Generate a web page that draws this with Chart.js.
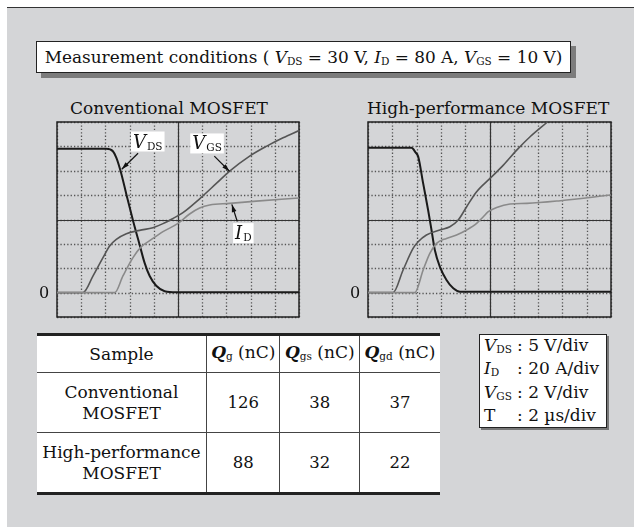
<!DOCTYPE html>
<html>
<head>
<meta charset="utf-8">
<script src="https://cdn.jsdelivr.net/npm/chart.js@4/dist/chart.umd.min.js"></script>
<style>
  html, body { margin: 0; padding: 0; background: #fff; }
  body { width: 634px; height: 527px; position: relative; overflow: hidden; font-family: "DejaVu Serif", serif; color: #111; }
  #panel { position: absolute; left: 7px; top: 7px; right: 0; bottom: 0; background: #d4d5d7; border-top: 1.5px solid #333; }
  .abs { position: absolute; }
  sub { font-size: 0.62em; vertical-align: -0.15em; font-style: normal; }
  i { font-style: italic; }
  #cond { left: 36px; top: 41px; width: 533px; height: 30px; background: #fff; border: 1.5px solid #222; box-shadow: 5px 5px 0 #7c7c7c; font-size: 16.9px; line-height: 30px; text-align: center; white-space: nowrap; }
  .ctitle { top: 98px; font-size: 17px; line-height: 20px; text-align: center; white-space: nowrap; }
  canvas { position: absolute; }
  table { position: absolute; left: 37px; top: 333px; width: 403px; border-collapse: collapse; background: #fff; font-size: 16.5px; text-align: center; }
  table { border-top: 3.5px solid #222; border-bottom: 3.5px solid #222; }
  td, th { border: 1.3px solid #444; padding: 0; font-weight: normal; line-height: 21px; white-space: nowrap; }
  td:first-child, th:first-child { border-left: none; }
  td:last-child, th:last-child { border-right: none; }
  tr.h th { height: 36px; font-size: 17px; }
  tr.r td { height: 59px; }
  td.s { font-size: 17px; }
  b.q { font-style: italic; font-weight: bold; }
  #units { left: 479px; top: 334px; width: 126px; height: 92px; background: #fff; border: 1.5px solid #222; box-shadow: 2px 2px 0 #777; font-size: 17px; }
  #units div { position: absolute; left: 4px; white-space: nowrap; line-height: 20px; }
  #units span.c { position: absolute; left: 33px; }
</style>
</head>
<body>
<div id="panel"></div>
<div id="cond" class="abs">Measurement conditions ( <i>V</i><sub>DS</sub> = 30 V, <i>I</i><sub>D</sub> = 80 A, <i>V</i><sub>GS</sub> = 10 V)</div>
<div class="abs ctitle" style="left:59px;width:220px;">Conventional MOSFET</div>
<div class="abs ctitle" style="left:367px;width:242px;">High-performance MOSFET</div>
<canvas id="c1" width="272" height="215" style="left:37px;top:112px;"></canvas>
<canvas id="c2" width="273" height="215" style="left:348px;top:112px;"></canvas>
<table>
  <tr class="h"><th style="width:169px">Sample</th><th><b class="q">Q</b><sub>g</sub> (nC)</th><th><b class="q">Q</b><sub>gs</sub> (nC)</th><th><b class="q">Q</b><sub>gd</sub> (nC)</th></tr>
  <tr class="r"><td class="s">Conventional<br>MOSFET</td><td>126</td><td>38</td><td>37</td></tr>
  <tr class="r"><td class="s">High-performance<br>MOSFET</td><td>88</td><td>32</td><td>22</td></tr>
</table>
<div id="units" class="abs">
  <div style="top:0px"><i>V</i><sub>DS</sub><span class="c">: 5 V/div</span></div>
  <div style="top:23px"><i>I</i><sub>D</sub><span class="c">: 20 A/div</span></div>
  <div style="top:47px"><i>V</i><sub>GS</sub><span class="c">: 2 V/div</span></div>
  <div style="top:70px">T<span class="c">: 2 µs/div</span></div>
</div>
<script>
// time axis in µs (2 µs/div), grid every division
const timeTicks = [0, 2, 4, 6, 8, 10, 12, 14, 16, 18, 20];
const vdsTicks = [-5, 0, 5, 10, 15, 20, 25, 30, 35];

// Conventional MOSFET waveforms (t in µs)
const convVdsT = [0, 4.08, 4.62, 4.9, 5.26, 5.74, 6.28, 6.84, 7.24, 7.66, 8.2, 8.9, 9.86, 20];
const convVds  = [29.5, 29.5, 29.0, 27.7, 24.9, 20.1, 14.8, 9.7, 6.1, 3.4, 1.4, 0.3, 0.1, 0.1];
const convVgsT = [0, 2.15, 2.98, 3.8, 4.35, 4.9, 5.73, 6.83, 7.93, 8.76, 9.59, 10.41, 11.79, 13.17, 14.27, 15.92, 17.3, 18.68, 20];
const convVgs  = [0, 0, 1.37, 2.87, 3.83, 4.37, 4.84, 5.11, 5.33, 5.66, 6.09, 6.56, 7.7, 8.96, 9.97, 11.2, 12.0, 12.7, 13.3];
const convIdT  = [0, 4.77, 5.45, 6.28, 6.97, 7.66, 8.76, 10.0, 10.96, 11.79, 12.62, 14.27, 16.47, 20];
const convId   = [0, 0, 13.7, 28.7, 37.7, 42.6, 50.0, 56.8, 64.5, 69.4, 71.9, 73.2, 75.1, 77.7];

// High-performance MOSFET waveforms
const hpVdsT = [0, 3.58, 3.93, 4.13, 4.54, 4.95, 5.23, 5.5, 5.91, 6.46, 7.02, 7.57, 20];
const hpVds  = [29.7, 29.7, 28.7, 27.9, 22.4, 16.9, 12.8, 8.74, 5.33, 2.6, 0.89, 0.2, 0.2];
const hpVgsT = [0, 2.06, 2.89, 3.71, 4.13, 4.81, 5.91, 6.74, 7.43, 8.12, 8.94, 10.04, 11.14, 12.24, 13.34, 14.72];
const hpVgs  = [0, 0, 1.86, 3.63, 4.18, 4.73, 5.14, 5.41, 5.96, 7.05, 8.28, 9.37, 10.46, 11.69, 12.79, 13.96];
const hpIdT  = [0, 3.85, 4.54, 5.09, 5.64, 6.46, 7.29, 8.12, 8.94, 9.49, 9.9, 10.59, 11.69, 13.07, 15.82, 20];
const hpId   = [0, 0, 18.6, 32.2, 40.4, 44.5, 47.3, 51.4, 56.8, 62.3, 66.4, 69.9, 72.7, 73.2, 75.4, 80.1];

function pts(xs, ys) {
    return xs.map((x, i) => ({x: x, y: ys[i]}));
}

const scopeGrid = {
    id: 'scopeGrid',
    beforeDatasetsDraw(chart) {
        const {ctx, chartArea: a, scales} = chart;
        const xs = scales.x, ys = scales.yV;
        ctx.save();
        // dotted divisions
        ctx.strokeStyle = '#555';
        ctx.lineWidth = 1.3;
        ctx.setLineDash([1.3, 2.1]);
        for (const t of timeTicks) {
            const px = Math.round(xs.getPixelForValue(t)) + 0.5;
            ctx.beginPath(); ctx.moveTo(px, a.top); ctx.lineTo(px, a.bottom); ctx.stroke();
        }
        for (const v of vdsTicks) {
            const py = Math.round(ys.getPixelForValue(v)) + 0.5;
            ctx.beginPath(); ctx.moveTo(a.left, py); ctx.lineTo(a.right, py); ctx.stroke();
        }
        // solid centre cross
        ctx.setLineDash([]);
        ctx.strokeStyle = '#333';
        ctx.lineWidth = 1.2;
        const cx = Math.round(xs.getPixelForValue(10)) + 0.5;
        const cy = Math.round(ys.getPixelForValue(15)) + 0.5;
        ctx.beginPath(); ctx.moveTo(cx, a.top); ctx.lineTo(cx, a.bottom); ctx.stroke();
        ctx.beginPath(); ctx.moveTo(a.left, cy); ctx.lineTo(a.right, cy); ctx.stroke();
        // frame
        ctx.strokeStyle = '#222';
        ctx.lineWidth = 1.5;
        ctx.strokeRect(a.left, a.top, a.right - a.left, a.bottom - a.top);
        ctx.restore();
    },
    afterDraw(chart) {
        const {ctx, chartArea: a, scales} = chart;
        ctx.save();
        ctx.fillStyle = '#111';
        ctx.font = '16px "DejaVu Serif", serif';
        ctx.textAlign = 'center';
        ctx.textBaseline = 'middle';
        ctx.fillText('0', a.left - 13, scales.yV.getPixelForValue(0) + 1);
        ctx.restore();
    }
};

const callouts = {
    id: 'callouts',
    afterDatasetsDraw(chart, args, opts) {
        if (!opts.items) return;
        const {ctx, scales} = chart;
        const xs = scales.x, ys = scales.yV;
        ctx.save();
        for (const it of opts.items) {
            const lx = xs.getPixelForValue(it.at[0]), ly = ys.getPixelForValue(it.at[1]);
            const x0 = xs.getPixelForValue(it.from[0]), y0 = ys.getPixelForValue(it.from[1]);
            const x1 = xs.getPixelForValue(it.to[0]), y1 = ys.getPixelForValue(it.to[1]);
            // label
            ctx.font = 'italic 18px "DejaVu Serif", serif';
            const w1 = ctx.measureText(it.main).width;
            ctx.font = '10.5px "DejaVu Serif", serif';
            const w2 = ctx.measureText(it.sub).width;
            const w = w1 + w2 + 1;
            ctx.fillStyle = '#fff';
            ctx.fillRect(lx - w / 2 - 2, ly - 10, w + 4, 20);
            ctx.fillStyle = '#111';
            ctx.textBaseline = 'alphabetic';
            ctx.textAlign = 'left';
            ctx.font = 'italic 18px "DejaVu Serif", serif';
            ctx.fillText(it.main, lx - w / 2, ly + 6);
            ctx.font = '10.5px "DejaVu Serif", serif';
            ctx.fillText(it.sub, lx - w / 2 + w1 + 1, ly + 8);
            // arrow
            ctx.strokeStyle = '#111';
            ctx.lineWidth = 1.2;
            ctx.beginPath(); ctx.moveTo(x0, y0); ctx.lineTo(x1, y1); ctx.stroke();
            const ang = Math.atan2(y1 - y0, x1 - x0);
            ctx.beginPath();
            ctx.moveTo(x1, y1);
            ctx.lineTo(x1 - 8 * Math.cos(ang - 0.3), y1 - 8 * Math.sin(ang - 0.3));
            ctx.lineTo(x1 - 8 * Math.cos(ang + 0.3), y1 - 8 * Math.sin(ang + 0.3));
            ctx.closePath();
            ctx.fill();
        }
        ctx.restore();
    }
};

function makeChart(id, vds, vgs, id_, items) {
    const common = {fill: false, pointRadius: 0, cubicInterpolationMode: 'monotone'};
    return new Chart(document.getElementById(id), {
        type: 'line',
        data: {
            datasets: [
                Object.assign({label: 'ID', data: id_, yAxisID: 'yI', borderColor: '#8a8a8a', borderWidth: 1.6}, common),
                Object.assign({label: 'VGS', data: vgs, yAxisID: 'yG', borderColor: '#555', borderWidth: 1.6}, common),
                Object.assign({label: 'VDS', data: vds, yAxisID: 'yV', borderColor: '#1a1a1a', borderWidth: 2}, common)
            ]
        },
        options: {
            responsive: false,
            animation: false,
            devicePixelRatio: 1,
            layout: {padding: {left: 20, right: 10, top: 10, bottom: 10}},
            scales: {
                x: {type: 'linear', min: 0, max: 20, display: false},
                yV: {type: 'linear', min: -5, max: 35, display: false},
                yI: {type: 'linear', min: -20, max: 140, display: false},
                yG: {type: 'linear', min: -2, max: 14, display: false}
            },
            plugins: {
                legend: {display: false},
                tooltip: {enabled: false},
                callouts: {items: items}
            }
        },
        plugins: [scopeGrid, callouts]
    });
}

makeChart('c1', pts(convVdsT, convVds), pts(convVgsT, convVgs), pts(convIdT, convId), [
    {main: 'V', sub: 'DS', at: [7.5, 31.0], from: [6.7, 28.6], to: [5.35, 25.3]},
    {main: 'V', sub: 'GS', at: [12.4, 30.6], from: [13.0, 28.0], to: [14.25, 24.9]},
    {main: 'I', sub: 'D', at: [15.4, 12.2], from: [14.9, 14.6], to: [14.45, 18.1]}
]);
makeChart('c2', pts(hpVdsT, hpVds), pts(hpVgsT, hpVgs), pts(hpIdT, hpId), []);
</script>
</body>
</html>
